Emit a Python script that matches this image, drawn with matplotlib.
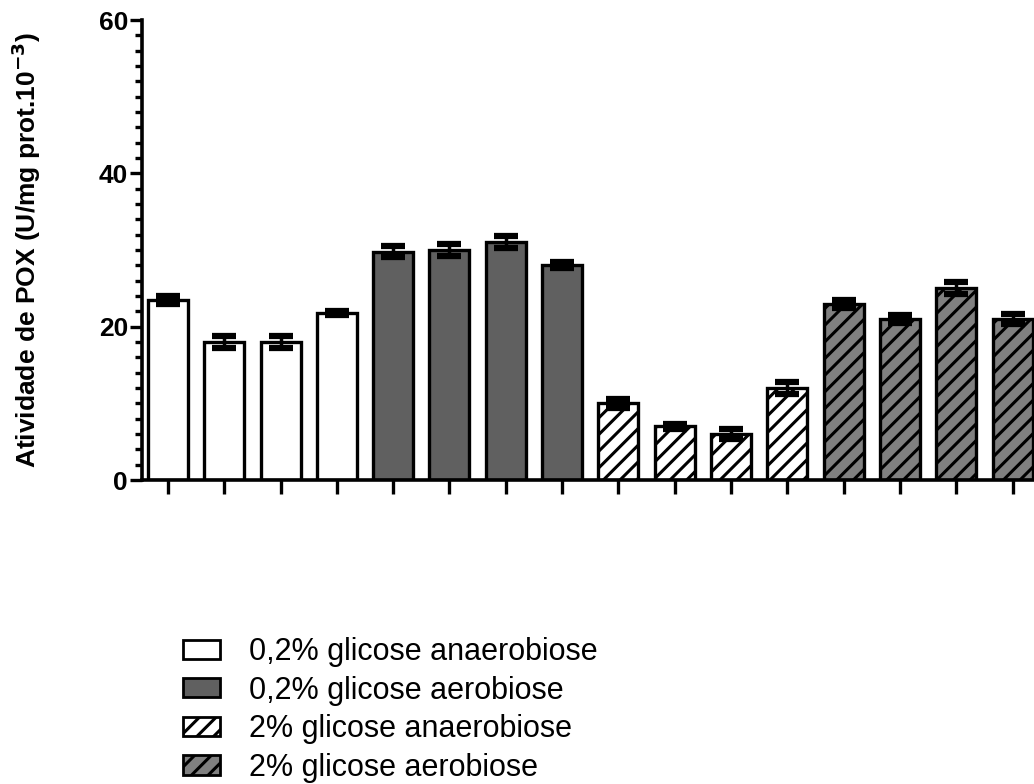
import matplotlib
matplotlib.use("Agg")
import matplotlib.pyplot as plt
from matplotlib.patches import Patch
from matplotlib.ticker import MultipleLocator
import numpy as np

# Mean POX activity per sample (U/mg prot.10^-3) and standard error
values = [23.5, 18.0, 18.0, 21.8,
          29.8, 30.0, 31.0, 28.0,
          10.0, 7.0, 6.0, 12.0,
          23.0, 21.0, 25.0, 21.0]
errors = [0.5, 0.8, 0.8, 0.3,
          0.7, 0.8, 0.8, 0.4,
          0.6, 0.3, 0.6, 0.8,
          0.5, 0.5, 0.8, 0.6]
groups = ["0,2% glicose anaerobiose", "0,2% glicose aerobiose",
          "2% glicose anaerobiose", "2% glicose aerobiose"]
group_size = 4

group_faces = ["white", "#606060", "white", "#808080"]
group_hatches = ["", "", "//", "//"]

plt.rcParams["font.family"] = ["Liberation Sans", "DejaVu Sans"]
plt.rcParams["hatch.linewidth"] = 2.2
plt.rcParams["hatch.color"] = "black"

fig = plt.figure(figsize=(10.34, 7.84), dpi=100)
ax = fig.add_axes([142 / 1034, 1 - 480 / 784, (1034 - 142) / 1034, (480 - 20) / 784])

x = np.arange(len(values))
for g in range(len(groups)):
    sl = slice(g * group_size, (g + 1) * group_size)
    ax.bar(x[sl], values[sl], width=0.71, color=group_faces[g],
           edgecolor="black", linewidth=2.4, hatch=group_hatches[g], zorder=2)

ax.errorbar(x, values, yerr=errors, fmt="none", ecolor="black",
            elinewidth=2.5, capsize=8.5, capthick=4.5, zorder=3)

ax.set_ylim(0, 60)
ax.set_xlim(-0.46, 15.38)
ax.yaxis.set_major_locator(MultipleLocator(20))
ax.yaxis.set_minor_locator(MultipleLocator(2))
ax.set_xticks(x)
ax.set_xticklabels([])
ax.tick_params(axis="y", which="major", length=9, width=2.4, labelsize=19, pad=1)
ax.tick_params(axis="y", which="minor", length=5, width=2.4)
ax.tick_params(axis="x", which="major", length=10, width=2.4)
for lbl in ax.get_yticklabels():
    lbl.set_fontweight("bold")

for side in ["top", "right"]:
    ax.spines[side].set_visible(False)
for side in ["left", "bottom"]:
    ax.spines[side].set_linewidth(2.6)
ax.spines["left"].set_bounds(0, 60)

ax.set_ylabel("Atividade de POX (U/mg prot.10$^{\\mathbf{-3}}$)",
              fontsize=19, fontweight="bold", labelpad=40)

handles = [Patch(facecolor=group_faces[g], edgecolor="black", linewidth=2,
                 hatch=group_hatches[g], label=groups[g]) for g in range(len(groups))]
fig.legend(handles=handles, loc="upper left", bbox_to_anchor=(183 / 1034, 1 - 637 / 784),
           frameon=False, fontsize=22, handlelength=1.22, handleheight=0.6,
           labelspacing=0.28, handletextpad=0.95, borderpad=0, borderaxespad=0)

fig.savefig("out.png", dpi=100)
